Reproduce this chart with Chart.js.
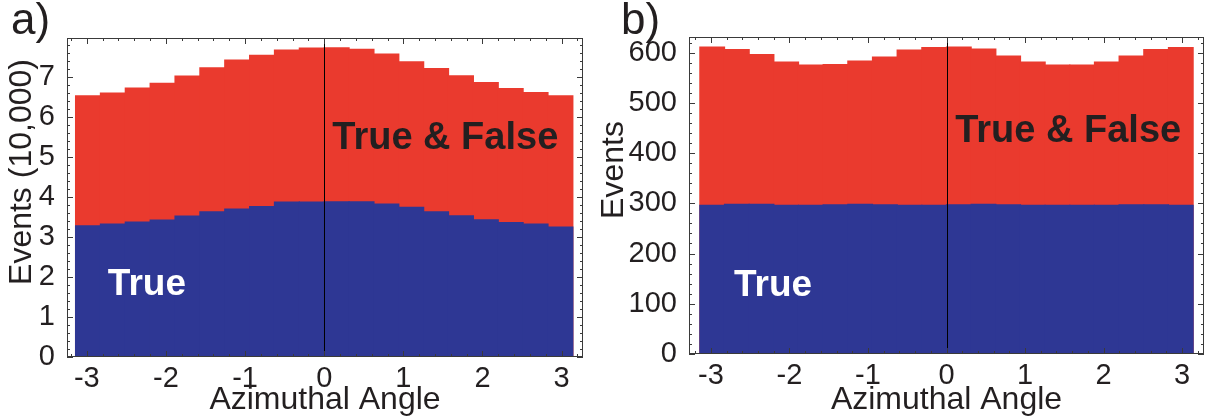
<!DOCTYPE html>
<html>
<head>
<meta charset="utf-8">
<script src="https://cdn.jsdelivr.net/npm/chart.js@4.4.1/dist/chart.umd.min.js"></script>
<style>
  html, body { margin: 0; background: #fff; }
  .panel { position: absolute; top: 0; height: 419px; }
  #panel-a { left: 0; width: 600px; }
  #panel-b { left: 600px; width: 611px; }
</style>
</head>
<body>
<div class="panel" id="panel-a"><canvas id="chart-a"></canvas></div>
<div class="panel" id="panel-b"><canvas id="chart-b"></canvas></div>
<script>
// 20 bins over the full turn, -pi .. pi
const binCount = 20;
const binCenters = Array.from({ length: binCount }, (_, i) => -Math.PI + (i + 0.5) * 2 * Math.PI / binCount);
const angleTicks = [-3, -2, -1, 0, 1, 2, 3];

// panel a, in units of 10,000 events
const aAllEvents = [6.53, 6.60, 6.72, 6.84, 7.02, 7.23, 7.42, 7.54, 7.67, 7.72, 7.73, 7.69, 7.57, 7.38, 7.21, 7.03, 6.86, 6.71, 6.61, 6.53];
const aTrueEvents = [3.28, 3.32, 3.37, 3.42, 3.52, 3.63, 3.70, 3.76, 3.87, 3.87, 3.88, 3.88, 3.82, 3.74, 3.63, 3.53, 3.43, 3.36, 3.32, 3.25];
const aEventTicks = [0, 1, 2, 3, 4, 5, 6, 7];

// panel b, events
const bAllEvents = [611, 606, 596, 581, 575, 576, 583, 591, 605, 610, 611, 607, 593, 581, 575, 575, 581, 593, 606, 610];
const bTrueEvents = [296, 298, 298, 296, 296, 297, 298, 297, 296, 296, 297, 298, 297, 296, 296, 296, 296, 297, 297, 296];
const bEventTicks = [0, 100, 200, 300, 400, 500, 600];

const trueColor = "#2e3794";
const allColor = "#ea3a2e";
const textColor = "#231f20";
const frameColor = "#3a3a3a";
const fontFamily = "'Liberation Sans', Arial, sans-serif";

function histogramDatasets(allEvents, trueEvents) {
  return [
    {
      label: "True",
      data: binCenters.map((c, i) => ({ x: c, y: trueEvents[i] })),
      backgroundColor: trueColor,
      inflateAmount: 0.6
    },
    {
      label: "True & False",
      data: binCenters.map((c, i) => ({ x: c, y: allEvents[i] })),
      backgroundColor: allColor,
      inflateAmount: 0.6
    }
  ];
}

// frame with inward ticks on all sides, the zero line and the text labels
const framePlugin = {
  id: "frame",
  afterDatasetsDraw(chart, args, opts) {
    const { ctx, chartArea: area, scales: { x, y } } = chart;
    ctx.save();
    ctx.lineWidth = 1;

    ctx.strokeStyle = "#000";
    const x0 = Math.round(x.getPixelForValue(0)) + 0.5;
    ctx.beginPath();
    ctx.moveTo(x0, area.top);
    ctx.lineTo(x0, area.bottom);
    ctx.stroke();

    ctx.strokeStyle = frameColor;
    ctx.strokeRect(area.left + 0.5, area.top + 0.5, area.width - 1, area.height - 1);

    ctx.beginPath();
    markTicks(ctx, x, area, opts.xStep, true);
    markTicks(ctx, y, area, opts.yStep, false);
    ctx.stroke();
    ctx.restore();
  },
  afterDraw(chart, args, opts) {
    const { ctx, scales: { x, y } } = chart;
    ctx.save();
    ctx.textAlign = "center";
    ctx.textBaseline = "middle";
    opts.notes.forEach((n) => {
      ctx.font = `bold ${n.size}px ${fontFamily}`;
      ctx.fillStyle = n.color;
      ctx.fillText(n.text, x.getPixelForValue(n.x), y.getPixelForValue(n.y));
    });

    ctx.fillStyle = textColor;
    ctx.textAlign = "left";
    ctx.textBaseline = "alphabetic";
    ctx.font = `44px ${fontFamily}`;
    ctx.fillText(opts.panel, opts.panelX, 34);

    ctx.font = `32px ${fontFamily}`;
    ctx.textAlign = "center";
    ctx.textBaseline = "middle";
    ctx.translate(opts.yTitleX, opts.yTitleY);
    ctx.rotate(-Math.PI / 2);
    ctx.fillText(opts.yTitle, 0, 0);
    ctx.restore();
  }
};

function markTicks(ctx, scale, area, step, horizontal) {
  const first = Math.ceil(scale.min / step - 1e-9);
  const last = Math.floor(scale.max / step + 1e-9);
  for (let k = first; k <= last; k++) {
    const len = k % 5 === 0 ? 6 : 3;
    const p = Math.round(scale.getPixelForValue(k * step)) + 0.5;
    if (horizontal) {
      ctx.moveTo(p, area.bottom);
      ctx.lineTo(p, area.bottom - len);
      ctx.moveTo(p, area.top);
      ctx.lineTo(p, area.top + len);
    } else {
      ctx.moveTo(area.left, p);
      ctx.lineTo(area.left + len, p);
      ctx.moveTo(area.right, p);
      ctx.lineTo(area.right - len, p);
    }
  }
}

function createPanel(id, cfg) {
  return new Chart(document.getElementById(id), {
    type: "bar",
    data: { datasets: histogramDatasets(cfg.all, cfg.trueEvents) },
    plugins: [framePlugin],
    options: {
      responsive: true,
      maintainAspectRatio: false,
      animation: false,
      grouped: false,
      barPercentage: 1,
      categoryPercentage: 1,
      layout: { padding: cfg.padding },
      plugins: {
        legend: { display: false },
        tooltip: { enabled: false },
        frame: cfg.frame
      },
      scales: {
        x: {
          type: "linear",
          offset: false,
          min: cfg.xMin,
          max: cfg.xMax,
          grid: { display: false },
          border: { display: false },
          afterBuildTicks: (s) => { s.ticks = angleTicks.map((v) => ({ value: v })); },
          afterFit: (s) => { s.height = cfg.xHeight; },
          ticks: {
            color: textColor,
            padding: -3,
            maxRotation: 0,
            font: { family: fontFamily, size: 29 }
          },
          title: {
            display: true,
            text: "Azimuthal Angle",
            color: textColor,
            padding: { top: 0, bottom: 0 },
            font: { family: fontFamily, size: 32 }
          }
        },
        y: {
          min: 0,
          max: cfg.yMax,
          grid: { display: false },
          border: { display: false },
          afterBuildTicks: (s) => { s.ticks = cfg.yTicks.map((v) => ({ value: v })); },
          afterFit: (s) => { s.width = cfg.yWidth; },
          ticks: {
            color: textColor,
            padding: 4,
            font: { family: fontFamily, size: 29 }
          }
        }
      }
    }
  });
}

createPanel("chart-a", {
  all: aAllEvents,
  trueEvents: aTrueEvents,
  yTicks: aEventTicks,
  xMin: -3.25,
  xMax: 3.27,
  yMax: 7.975,
  yWidth: 67,
  xHeight: 62,
  padding: { top: 38, right: 17, bottom: 0, left: 0 },
  frame: {
    xStep: 0.2,
    yStep: 0.2,
    panel: "a)",
    panelX: 11,
    yTitle: "Events (10,000)",
    yTitleX: 22,
    yTitleY: 172,
    notes: [
      { text: "True & False", x: 1.53, y: 5.45, size: 38, color: textColor },
      { text: "True", x: -2.24, y: 1.8, size: 37, color: "#ffffff" }
    ]
  }
});

createPanel("chart-b", {
  all: bAllEvents,
  trueEvents: bTrueEvents,
  yTicks: bEventTicks,
  xMin: -3.28,
  xMax: 3.28,
  yMax: 631,
  yWidth: 89,
  xHeight: 65,
  padding: { top: 37, right: 7, bottom: 0, left: 0 },
  frame: {
    xStep: 0.2,
    yStep: 20,
    panel: "b)",
    panelX: 21,
    yTitle: "Events",
    yTitleX: 14,
    yTitleY: 170,
    notes: [
      { text: "True & False", x: 1.55, y: 442, size: 38, color: textColor },
      { text: "True", x: -2.21, y: 136, size: 37, color: "#ffffff" }
    ]
  }
});
</script>
</body>
</html>
